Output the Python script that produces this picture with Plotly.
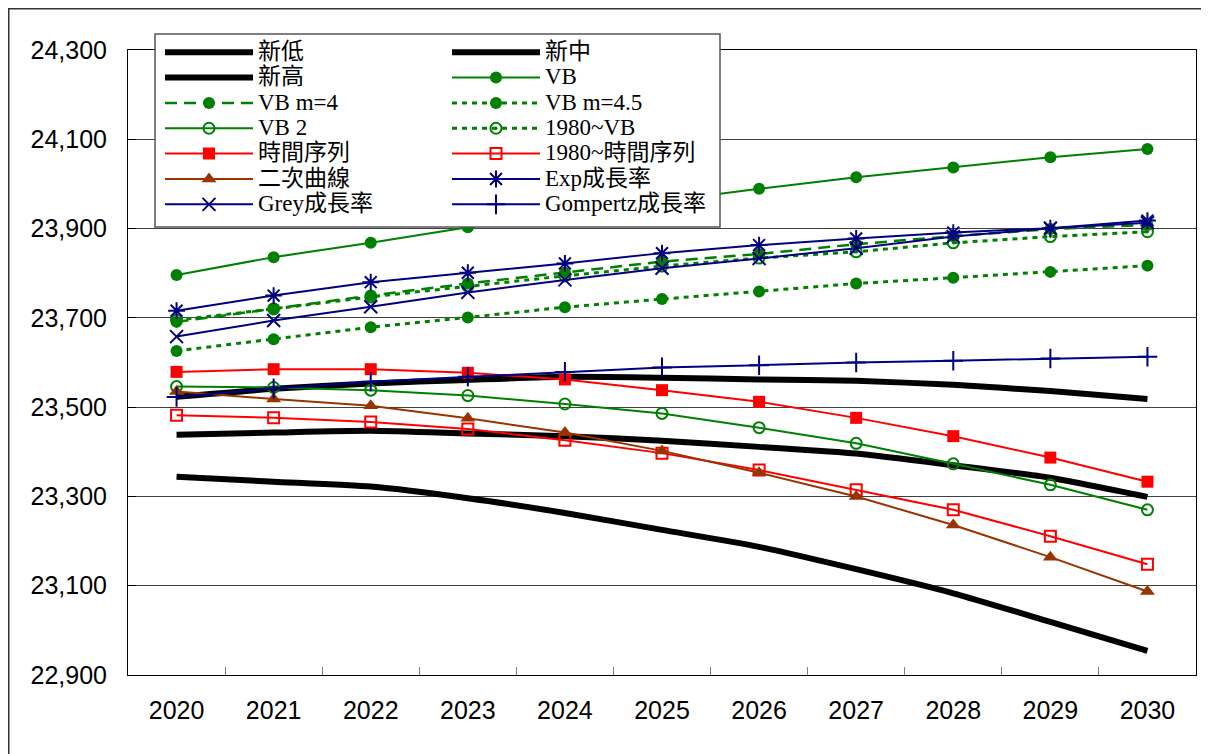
import plotly.graph_objects as go

years = ["2020", "2021", "2022", "2023", "2024", "2025", "2026", "2027", "2028", "2029", "2030"]

new_low = [23344, 23333, 23322, 23296, 23263, 23225, 23187, 23137, 23083, 23019, 22954]
new_mid = [23438, 23443, 23447, 23441, 23435, 23425, 23411, 23396, 23370, 23342, 23299]
new_high = [23523, 23541, 23553, 23561, 23568, 23566, 23562, 23559, 23550, 23536, 23518]
vb = [23796, 23836, 23868, 23903, 23933, 23961, 23989, 24015, 24037, 24060, 24078]
vb_m4 = [23691, 23721, 23750, 23777, 23801, 23826, 23843, 23865, 23883, 23899, 23908]
vb_m45 = [23626, 23652, 23679, 23701, 23724, 23742, 23759, 23777, 23790, 23803, 23817]
vb2 = [23546, 23544, 23538, 23526, 23507, 23486, 23454, 23419, 23373, 23326, 23270]
vb_1980 = [23695, 23720, 23747, 23771, 23794, 23816, 23834, 23848, 23868, 23882, 23893]
ts = [23579, 23585, 23585, 23577, 23562, 23538, 23512, 23476, 23435, 23387, 23333]
ts_1980 = [23482, 23476, 23467, 23451, 23426, 23397, 23359, 23315, 23270, 23211, 23148]
quad = [23535, 23518, 23503, 23475, 23443, 23402, 23353, 23300, 23236, 23164, 23087]
exp_rate = [23716, 23750, 23780, 23801, 23822, 23845, 23863, 23878, 23891, 23901, 23918]
grey_rate = [23658, 23694, 23725, 23757, 23785, 23811, 23833, 23856, 23882, 23901, 23913]
gompertz = [23523, 23542, 23557, 23568, 23579, 23589, 23594, 23600, 23604, 23609, 23613]

y_ticks = [22900, 23100, 23300, 23500, 23700, 23900, 24100, 24300]

GREEN = "#008000"
RED = "#FF0000"
BROWN = "#993300"
NAVY = "#000080"

# (name, values, legend, line dict, marker dict or None, shape)
series = [
    ("新低", new_low, "legend", dict(color="black", width=6), None, "spline"),
    ("新中", new_mid, "legend2", dict(color="black", width=6), None, "spline"),
    ("新高", new_high, "legend", dict(color="black", width=6), None, "spline"),
    ("VB", vb, "legend2", dict(color=GREEN, width=2),
     dict(symbol="circle", size=12, color=GREEN), "linear"),
    ("VB m=4", vb_m4, "legend", dict(color=GREEN, width=2.5, dash="12px,7px"),
     dict(symbol="circle", size=12, color=GREEN), "linear"),
    ("VB m=4.5", vb_m45, "legend2", dict(color=GREEN, width=3, dash="5px,5px"),
     dict(symbol="circle", size=12, color=GREEN), "linear"),
    ("VB 2", vb2, "legend", dict(color=GREEN, width=2),
     dict(symbol="circle-open", size=11, color=GREEN, line=dict(width=2, color=GREEN)), "linear"),
    ("1980~VB", vb_1980, "legend2", dict(color=GREEN, width=3, dash="5px,5px"),
     dict(symbol="circle-open-dot", size=11, color=GREEN, line=dict(width=2, color=GREEN)), "linear"),
    ("時間序列", ts, "legend", dict(color=RED, width=2),
     dict(symbol="square", size=12, color=RED), "linear"),
    ("1980~時間序列", ts_1980, "legend2", dict(color=RED, width=2),
     dict(symbol="square-open", size=11, color=RED, line=dict(width=2, color=RED)), "linear"),
    ("二次曲線", quad, "legend", dict(color=BROWN, width=2),
     dict(symbol="triangle-up", size=13, color=BROWN), "linear"),
    ("Exp成長率", exp_rate, "legend2", dict(color=NAVY, width=2),
     dict(symbol="asterisk-open", size=14, color=NAVY, line=dict(width=2, color=NAVY)), "linear"),
    ("Grey成長率", grey_rate, "legend", dict(color=NAVY, width=2),
     dict(symbol="x-thin-open", size=13, color=NAVY, line=dict(width=2, color=NAVY)), "linear"),
    ("Gompertz成長率", gompertz, "legend2", dict(color=NAVY, width=2),
     dict(symbol="cross-thin-open", size=14, color=NAVY, line=dict(width=2, color=NAVY)), "linear"),
]

fig = go.Figure()
for name, vals, leg, line, marker, shape in series:
    line = dict(line)
    line["shape"] = shape
    if shape == "spline":
        line["smoothing"] = 0.6
    label = '<span style="font-size:23px">' + name + "</span>"
    kw = dict(x=years, y=vals, name=label, legend=leg, line=line,
              mode="lines" if marker is None else "lines+markers")
    if marker is not None:
        kw["marker"] = marker
    fig.add_trace(go.Scatter(**kw))

# figure-pixel geometry (page is offset by the 8px body margin)
W, H = 1209, 754
PL, PR, PT, PB = 120, 21, 42, 87
pw = W - PL - PR
ph = H - PT - PB

def px_x(x):
    return (x - PL) / pw

def px_y(y):
    return (H - PB - y) / ph

legend_font = dict(family="Liberation Serif, Noto Sans CJK TC", size=17.2, color="black")
common_leg = dict(bgcolor="rgba(0,0,0,0)", borderwidth=0, font=legend_font,
                  itemwidth=88, xanchor="left", yanchor="top", tracegroupgap=0,
                  itemsizing="trace")

fig.update_layout(
    width=W, height=H, autosize=False,
    margin=dict(l=PL, r=PR, t=PT, b=PB),
    paper_bgcolor="white", plot_bgcolor="white",
    showlegend=True,
    legend=dict(x=px_x(152), y=px_y(26.5), **common_leg),
    legend2=dict(x=px_x(439), y=px_y(26.5), **common_leg),
    xaxis=dict(type="category", categoryorder="array", categoryarray=years,
               range=[-0.5, 10.5], showgrid=False,
               ticks="inside", tickson="boundaries", ticklen=8, tickcolor="#808080",
               showline=True, linecolor="black", linewidth=1, mirror=True,
               tickfont=dict(family="Liberation Sans, Arial", size=25, color="black"),
               ticklabelstandoff=13),
    yaxis=dict(range=[22900, 24300], tickvals=y_ticks, tickformat=",d",
               showgrid=True, gridcolor="#404040", gridwidth=1,
               ticks="inside", ticklen=8, tickcolor="black",
               showline=True, linecolor="black", linewidth=1, mirror=True,
               zeroline=False,
               tickfont=dict(family="Liberation Sans, Arial", size=25, color="black"),
               ticklabelstandoff=15),
    shapes=[
        # outer chart frame
        dict(type="rect", xref="paper", yref="paper",
             x0=px_x(0.75), x1=px_x(1199.5), y0=px_y(800), y1=px_y(0.75),
             line=dict(color="#333333", width=1.5), fillcolor="rgba(0,0,0,0)",
             layer="below"),
        # legend frame
        dict(type="rect", xref="paper", yref="paper",
             x0=px_x(147), x1=px_x(712), y0=px_y(219), y1=px_y(26),
             line=dict(color="#555555", width=1.5), fillcolor="white",
             layer="above"),
    ],
)

fig.write_html("out.html")
